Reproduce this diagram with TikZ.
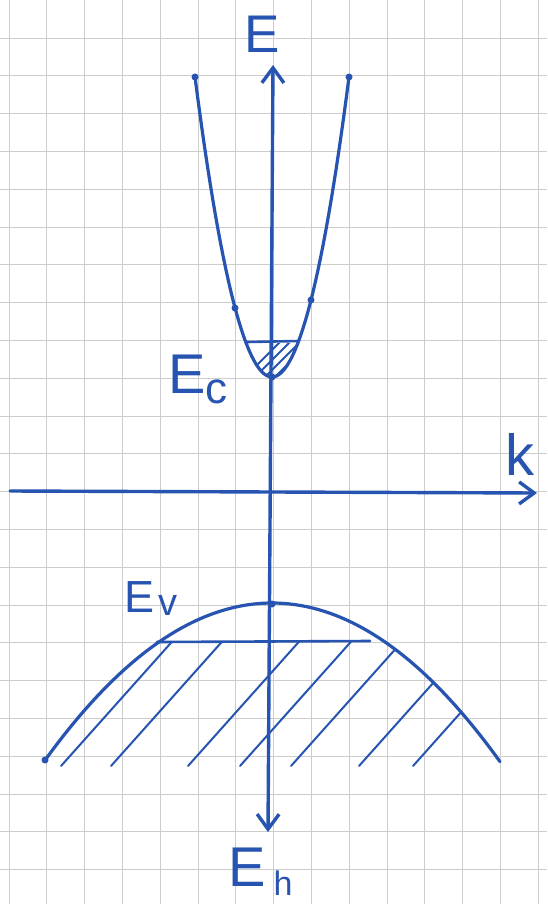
\documentclass[tikz,border=0pt]{standalone}
\usepackage{fontspec}
\setmainfont{Liberation Sans}
\usetikzlibrary{arrows.meta}
\definecolor{ink}{RGB}{38,84,176}
\definecolor{paperline}{RGB}{205,205,205}

\begin{document}
\begin{tikzpicture}[x=1pt, y=-1pt,
  band/.style={draw=ink, line width=3.2pt, line cap=round, line join=round},
  axisline/.style={draw=ink, line width=3.4pt, line cap=round},
  hatchline/.style={draw=ink, line width=2pt, line cap=round},
  gridline/.style={draw=paperline, line width=0.9pt},
  dotmark/.style={circle, fill=ink, inner sep=0pt, minimum size=7pt},
  lbl/.style={text=ink, inner sep=0pt, anchor=base west}
]
\path[use as bounding box, fill=white] (0,0) rectangle (547,904);

% graph paper
\foreach \i in {0,...,14} \draw[gridline] ({9+37.8*\i},0) -- ({9+37.8*\i},904);
\foreach \j in {0,...,22} \draw[gridline] (0,{38+37.8*\j}) -- (547,{38+37.8*\j});

\coordinate (eTop) at (273,65);
\coordinate (eBot) at (268,832);
\coordinate (kLeft) at (10,491);
\coordinate (kRight) at (537,493);
\draw[axisline, {Straight Barb[length=15pt, width=22pt]}-{Straight Barb[length=15pt, width=22pt]}] (eBot) -- (eTop);
\draw[axisline, -{Straight Barb[length=15pt, width=22pt]}] (kLeft) -- (kRight);

% conduction band
\draw[band] plot[domain=-77:77, samples=61] ({272+\x},{377-0.0506*(\x)*(\x)});
\begin{scope}
  \clip plot[domain=-26:26, samples=21] ({272+\x},{377-0.0506*(\x)*(\x)}) -- cycle;
  \foreach \s in {230,240,...,290} \draw[hatchline, line width=1.8pt] (\s,392) -- ++(60,-60);
\end{scope}
\coordinate (cLeft) at (247,342);
\coordinate (cRight) at (299,341);
\draw[band, line width=2.6pt] (cLeft) -- (cRight);
\node[dotmark] (c1) at (195,77) {};
\node[dotmark] (c2) at (349,77) {};
\node[dotmark] (c3) at (235,308) {};
\node[dotmark] (c4) at (311,300) {};
\node[dotmark] (cMin) at (272,377) {};

% valence band
\begin{scope}
  \clip plot[domain=-227:-115, samples=30] ({272+\x},{603+0.00305*(\x)*(\x)}) -- (370,641)
    -- plot[domain=113:228, samples=30] ({272+\x},{603+0.00305*(\x)*(\x)}) -- (500,770) -- (45,770) -- cycle;
  \foreach \b in {61,111,188,240,291,359,413} \draw[hatchline] (\b,766) -- ++(125,-140);
\end{scope}
\draw[band] plot[domain=-227:228, samples=81] ({272+\x},{603+0.00305*(\x)*(\x)});
\coordinate (vLeft) at (157,642);
\coordinate (vRight) at (370,641);
\draw[band, line width=2.6pt] (vLeft) -- (vRight);
\node[dotmark] (v1) at (45,760) {};
\node[dotmark] (vMax) at (272,604) {};

% labels
\node[lbl, font=\fontsize{53}{53}\selectfont] (eLbl) at (244,53) {E};
\node[lbl, font=\fontsize{56}{56}\selectfont] (ecLbl) at (168,393) {E\lower10pt\hbox{\fontsize{44}{44}\selectfont c}};
\node[lbl, font=\fontsize{45}{45}\selectfont] (evLbl) at (124,612) {E\kern4pt\lower3pt\hbox{\fontsize{38}{38}\selectfont v}};
\node[lbl, font=\fontsize{56}{56}\selectfont] (ehLbl) at (228,886) {E\kern8pt\lower9pt\hbox{\fontsize{34}{34}\selectfont h}};
\node[lbl, font=\fontsize{58}{58}\selectfont] (kLbl) at (505,475) {k};
\end{tikzpicture}
\end{document}
